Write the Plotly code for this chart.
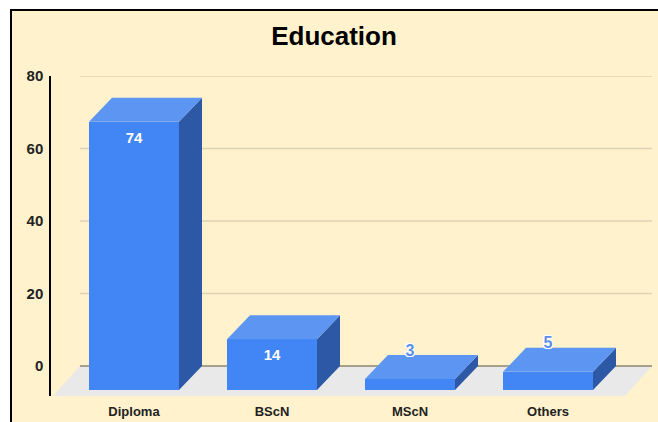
import plotly.graph_objects as go

# ---- data ----
categories = ["Diploma", "BScN", "MScN", "Others"]
values = [74, 14, 3, 5]
y_ticks = [0, 20, 40, 60, 80]
title_text = "Education"

# ---- style / geometry (layout only) ----
W, H = 658, 422
ML, MR, MT, MB = 51, 0, 76, 26
PW, PH = W - ML - MR, H - MT - MB
X0_PX, STEP_PX = 134.0, 138.0          # pixel of first category centre, spacing
PX_PER_UNIT = 3.625
X_RANGE = [(ML - X0_PX) / STEP_PX, (W - MR - X0_PX) / STEP_PX]
Y_RANGE = [y_ticks[-1] - PH / PX_PER_UNIT, y_ticks[-1]]

bar_w = 90 / STEP_PX
depth_x = 23 / STEP_PX
depth_y = 24 / PX_PER_UNIT
floor_front_l = (53 - X0_PX) / STEP_PX
floor_front_r = (625 - X0_PX) / STEP_PX
floor_dx = 27 / STEP_PX
floor_front_y = Y_RANGE[0]

FRONT = "#4285f4"
TOP = "#5d95f2"
SIDE = "#2d58a6"
FLOOR = "#e9e9e9"
GRID = "#dcd3b6"
ZERO = "#8d8770"
CREAM = "#fff2cc"
FONT = "Arial, Liberation Sans, sans-serif"


def px2paper_x(px):
    return (px - ML) / PW


def px2paper_y(py):
    return (H - MB - py) / PH


shapes = [dict(type="rect", xref="paper", yref="paper", layer="below",
               x0=px2paper_x(11), x1=px2paper_x(W + 10),
               y0=px2paper_y(H + 10), y1=px2paper_y(10),
               fillcolor=CREAM, line=dict(color="black", width=2))]

# floor
fl, fr = floor_front_l, floor_front_r
shapes.append(dict(
    type="path", xref="x", yref="y", layer="below",
    path=f"M {fl},{floor_front_y} L {fr},{floor_front_y} L {fr + floor_dx},0 L {fl + floor_dx},0 Z",
    fillcolor=FLOOR, line=dict(width=0)))

# gridlines on back wall
gx0, gx1 = fl + floor_dx, fr + floor_dx
for t in y_ticks:
    shapes.append(dict(type="line", xref="x", yref="y", layer="below",
                       x0=gx0, x1=gx1, y0=t, y1=t,
                       line=dict(color=ZERO if t == 0 else GRID, width=1.5)))

fig = go.Figure()

# front faces
fig.add_trace(go.Bar(
    x=list(range(len(categories))), y=values, base=-depth_y, width=bar_w,
    marker=dict(color=FRONT, line=dict(width=0)), showlegend=False, hoverinfo="skip"))

# side and top faces
for i, v in enumerate(values):
    xl, xr = i - bar_w / 2, i + bar_w / 2
    fig.add_trace(go.Scatter(
        x=[xr, xr + depth_x, xr + depth_x, xr, xr],
        y=[-depth_y, 0, v, v - depth_y, -depth_y],
        fill="toself", fillcolor=SIDE, mode="lines", line=dict(width=0),
        hoverinfo="skip", showlegend=False))
    fig.add_trace(go.Scatter(
        x=[xl, xr, xr + depth_x, xl + depth_x, xl],
        y=[v - depth_y, v - depth_y, v, v, v - depth_y],
        fill="toself", fillcolor=TOP, mode="lines", line=dict(width=0),
        hoverinfo="skip", showlegend=False))

# data labels
in_x, in_y, in_t, out_x, out_y, out_t = [], [], [], [], [], []
for i, v in enumerate(values):
    if v >= 7:
        in_x.append(i); in_y.append(v - depth_y - 17 / PX_PER_UNIT); in_t.append(str(v))
    else:
        out_x.append(i); out_y.append(v + 1); out_t.append(str(v))

fig.add_trace(go.Scatter(
    x=in_x, y=in_y, text=in_t, mode="text", textposition="middle center",
    textfont=dict(family=FONT, size=15, color="white", weight="bold"),
    hoverinfo="skip", showlegend=False, cliponaxis=False))
fig.add_trace(go.Scatter(
    x=out_x, y=out_y, text=out_t, mode="text", textposition="middle center",
    textfont=dict(family=FONT, size=16, color="#5b8fe8", weight="bold",
                  shadow="-1px -1px 0 #fff, 1px -1px 0 #fff, -1px 1px 0 #fff, 1px 1px 0 #fff"),
    hoverinfo="skip", showlegend=False, cliponaxis=False))

fig.update_layout(
    width=W, height=H,
    margin=dict(l=ML, r=MR, t=MT, b=MB),
    paper_bgcolor="white", plot_bgcolor="rgba(0,0,0,0)",
    title=dict(text=title_text, x=334 / W, xref="container", xanchor="center",
               y=1 - 36 / H, yref="container", yanchor="middle",
               font=dict(family=FONT, size=26, color="black", weight="bold")),
    xaxis=dict(range=X_RANGE, tickvals=list(range(len(categories))), ticktext=categories,
               showgrid=False, zeroline=False, showline=False, ticks="",
               ticklabelstandoff=6,
               tickfont=dict(family=FONT, size=13, color="#222", weight="bold")),
    yaxis=dict(range=Y_RANGE, tickvals=y_ticks, showgrid=False, zeroline=False,
               showline=True, linecolor="black", linewidth=1.5, ticks="",
               ticklabelstandoff=3,
               tickfont=dict(family=FONT, size=15, color="#222", weight="bold")),
    shapes=shapes,
    bargap=0,
)

fig.write_html("out.html")
